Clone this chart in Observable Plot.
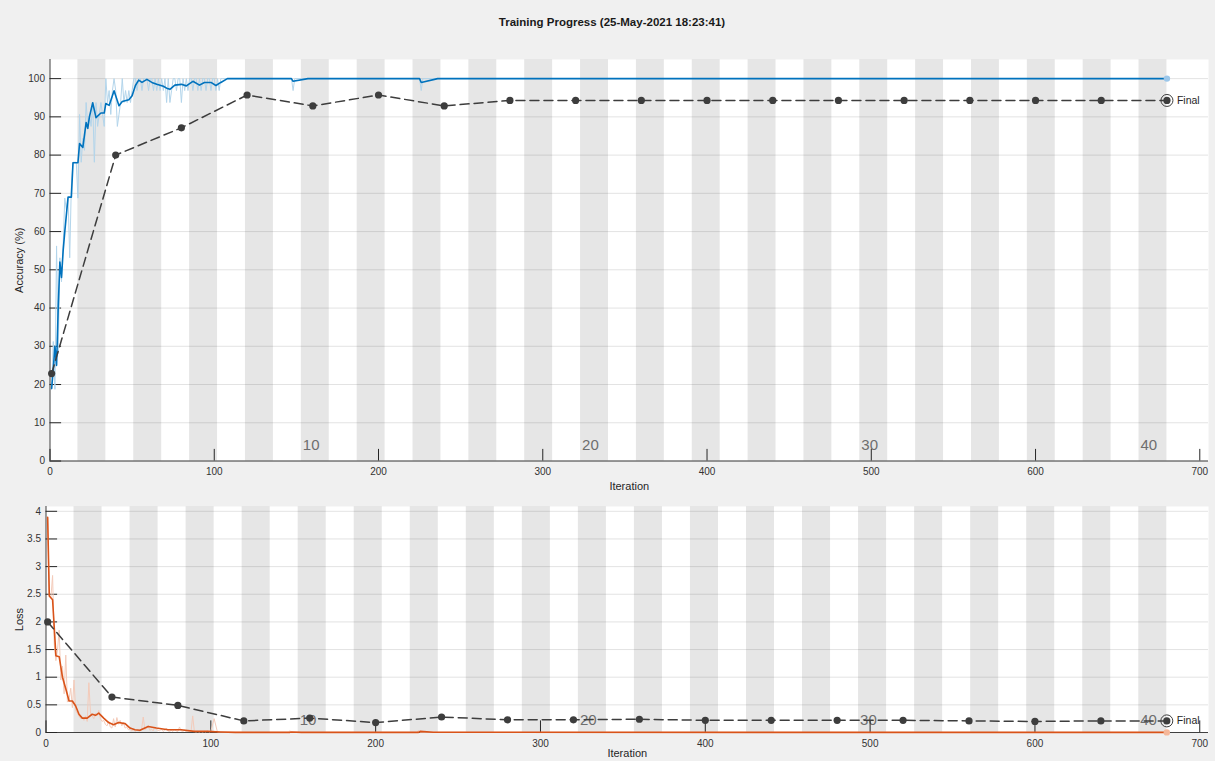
<!DOCTYPE html>
<html>
<head>
<meta charset="utf-8">
<script src="https://cdn.jsdelivr.net/npm/d3@7"></script>
<script src="https://cdn.jsdelivr.net/npm/@observablehq/plot@0.6"></script>
<style>
  html, body { margin: 0; padding: 0; background: #f0f0f0; }
  #fig { position: relative; width: 1215px; height: 761px; background: #f0f0f0; overflow: hidden; font-family: "Liberation Sans", Arial, sans-serif; }
  #title { position: absolute; top: 16px; left: 612px; transform: translateX(-50%); font-size: 11.5px; font-weight: bold; color: #1a1a1a; white-space: nowrap; }
  #accPanel, #lossPanel { position: absolute; left: 0; }
  #accPanel { top: 0; }
  #lossPanel { top: 500px; }
</style>
</head>
<body>
<div id="fig">
  <div id="title">Training Progress (25-May-2021 18:23:41)</div>
  <div id="accPanel"></div>
  <div id="lossPanel"></div>
</div>
<script>
// ---------- data ----------
const numEpochs = 40;
const itersPerEpoch = 17;
const epochLabels = [10, 20, 30, 40];
const iterTicks = [0, 100, 200, 300, 400, 500, 600, 700];
const accTicks = [0, 10, 20, 30, 40, 50, 60, 70, 80, 90, 100];
const lossTicks = [0, 0.5, 1, 1.5, 2, 2.5, 3, 3.5, 4];

// raw mini-batch accuracy, iterations 1..106
const rawAccEarly = [18.75, 31.25, 18.75, 56.25, 28.13, 53.13, 46.88, 56.25, 68.75, 65.63,
  68.75, 53.13, 71.88, 78.13, 78.13, 78.13, 68.75, 90.63, 78.13, 84.38,
  81.25, 93.75, 87.5, 90.63, 87.5, 93.75, 78.13, 93.75, 87.5, 90.63,
  93.75, 90.63, 87.5, 100, 93.75, 96.88, 90.63, 96.88, 100, 96.88,
  87.5, 90.63, 93.75, 100, 93.75, 96.88, 93.75, 96.88, 93.75, 96.88,
  100, 100, 96.88, 100, 100, 96.88, 100, 100, 100, 96.88,
  100, 100, 96.88, 100, 96.88, 100, 96.88, 100, 96.88, 100,
  93.75, 100, 93.75, 96.88, 100, 100, 96.88, 100, 100, 93.75,
  100, 96.88, 100, 96.88, 100, 100, 96.88, 100, 100, 96.88,
  100, 96.88, 100, 100, 96.88, 100, 100, 96.88, 100, 100,
  96.88, 100, 96.88, 100, 100, 100];
// raw accuracy after iteration 106 (iteration, value)
const rawAccLateIter = [147, 148, 149, 225, 226, 227, 680];
const rawAccLateVal  = [100, 96.88, 100, 100, 96.88, 100, 100];

// smoothed accuracy (iteration, value)
const smoothAccIter = [1,2,3,4,5,6,7,8,9,11,13,14,17,18,20,22,23,24,26,28,31,33,34,36,39,42,44,48,50,52,54,56,59,62,65,69,71,73,76,80,83,87,91,94,98,101,104,108,147,148,157,225,226,236,680];
const smoothAccVal  = [19,24,30,25,40,52,48,55,60,69,69,78,78,83,82,88.5,87,90,93.7,89.8,91,91,93.5,93,96.8,92.9,94,94.5,95.5,98.2,99.6,99,99.8,99,98.5,98,97.5,97.2,98.3,98.5,98.1,99.3,98.3,99,99,98.2,99,100,100,99.3,100,100,99,100,100];

// validation
const valIter = [1, 40, 80, 120, 160, 200, 240, 280, 320, 360, 400, 440, 480, 520, 560, 600, 640, 680];
const valAcc  = [22.86, 80, 87.14, 95.71, 92.86, 95.71, 92.86, 94.29, 94.29, 94.29, 94.29, 94.29, 94.29, 94.29, 94.29, 94.29, 94.29, 94.29];
const valLoss = [2.0, 0.64, 0.49, 0.21, 0.26, 0.18, 0.28, 0.23, 0.23, 0.24, 0.22, 0.22, 0.22, 0.22, 0.21, 0.20, 0.21, 0.21];

// raw mini-batch loss, iterations 1..100
const rawLossEarly = [3.89, 2.47, 2.45, 2.84, 1.6, 1.3, 1.5, 1.85, 0.95, 1.2,
  0.7, 1.4, 0.55, 0.6, 0.8, 0.45, 0.95, 0.4, 0.35, 0.3,
  0.25, 0.28, 0.22, 0.3, 0.2, 0.9, 0.35, 0.3, 0.25, 0.35,
  0.3, 0.4, 0.25, 0.2, 0.22, 0.15, 0.12, 0.2, 0.1, 0.08,
  0.25, 0.1, 0.27, 0.15, 0.22, 0.12, 0.18, 0.08, 0.1, 0.05,
  0.06, 0.03, 0.05, 0.02, 0.04, 0.03, 0.02, 0.06, 0.28, 0.05,
  0.08, 0.12, 0.04, 0.06, 0.03, 0.1, 0.05, 0.04, 0.03, 0.06,
  0.02, 0.04, 0.08, 0.03, 0.02, 0.04, 0.02, 0.05, 0.03, 0.02,
  0.1, 0.03, 0.02, 0.04, 0.02, 0.03, 0.02, 0.02, 0.3, 0.02,
  0.01, 0.02, 0.01, 0.02, 0.01, 0.02, 0.01, 0.03, 0.01, 0.02];
const rawLossLateIter = [102, 104, 110, 147, 148, 149, 225, 226, 227, 680];
const rawLossLateVal  = [0.25, 0.01, 0.005, 0.003, 0.03, 0.003, 0.003, 0.04, 0.003, 0.002];

// smoothed loss (iteration, value)
const smoothLossIter = [1,2,4,5,6,8,10,12,14,16,18,20,22,25,28,30,32,35,38,41,44,48,51,54,57,62,67,74,82,90,98,106,115,148,149,155,226,227,235,680];
const smoothLossVal  = [3.89,2.47,2.4,1.9,1.39,1.37,1.0,0.79,0.57,0.57,0.48,0.33,0.26,0.26,0.33,0.31,0.35,0.26,0.18,0.14,0.18,0.16,0.08,0.05,0.04,0.11,0.08,0.05,0.05,0.02,0.02,0.01,0.003,0.003,0.01,0.003,0.003,0.02,0.004,0.002];

// ---------- tables ----------
const rawAcc = rawAccEarly.map((v, i) => ({x: i + 1, y: v}))
  .concat(rawAccLateIter.map((x, i) => ({x, y: rawAccLateVal[i]})));
const smoothAcc = smoothAccIter.map((x, i) => ({x, y: smoothAccVal[i]}));
const rawLoss = rawLossEarly.map((v, i) => ({x: i + 1, y: v}))
  .concat(rawLossLateIter.map((x, i) => ({x, y: rawLossLateVal[i]})));
const smoothLoss = smoothLossIter.map((x, i) => ({x, y: smoothLossVal[i]}));
const valA = valIter.map((x, i) => ({x, y: valAcc[i]}));
const valL = valIter.map((x, i) => ({x, y: valLoss[i]}));
const bands = d3.range(1, numEpochs + 1).filter(e => e % 2 === 0)
  .map(e => ({x1: (e - 1) * itersPerEpoch, x2: e * itersPerEpoch}));
const epochText = epochLabels.map(e => ({x: (e - 1) * itersPerEpoch, label: String(e)}));

const FONT = "'Liberation Sans', Arial, sans-serif";
const VCOL = "#3d3d3d";
const TICKLEN = 11.6;

function panel({width, height, mt, mb, ml, mr, yDomain, yTicks, yFmt, yLabel, yLabelDx, xLabelDy,
                raw, smooth, val, rawColor, lineColor, finalColor, epochDy}) {
  const pw = width - ml - mr, ph = height - mt - mb;
  const last = val[val.length - 1];
  const lastTrain = smooth[smooth.length - 1];
  return Plot.plot({
    width, height,
    marginTop: mt, marginBottom: mb, marginLeft: ml, marginRight: mr,
    style: {background: "transparent", fontFamily: FONT, fontSize: "10px", color: "#333"},
    x: {domain: [0, 705.3], ticks: iterTicks, tickSize: 0, tickPadding: 7, label: null, tickFormat: d => String(d)},
    y: {domain: yDomain, ticks: yTicks, tickSize: 0, tickPadding: 5, label: null, tickFormat: yFmt},
    marks: [
      Plot.frame({fill: "white", stroke: "none"}),
      Plot.rect(bands, {x1: "x1", x2: "x2", fill: "#e6e6e6"}),
      Plot.ruleY(yTicks, {stroke: "#262626", strokeOpacity: 0.13}),
      Plot.text(epochText, {x: "x", text: "label", frameAnchor: "bottom", dy: epochDy, dx: 1.5,
        textAnchor: "start", lineAnchor: "middle", fontSize: 15, fill: "#6e6e6e"}),
      Plot.ruleY([yDomain[0]], {stroke: "#404040", strokeWidth: 1}),
      Plot.ruleX([0], {stroke: "#404040", strokeWidth: 1}),
      Plot.tickY(yTicks, {stroke: "#262626", insetRight: pw - TICKLEN}),
      Plot.tickX(iterTicks.filter(t => t <= 705), {stroke: "#262626", insetTop: ph - TICKLEN}),
      Plot.line(raw, {x: "x", y: "y", stroke: rawColor, strokeWidth: 1}),
      Plot.line(smooth, {x: "x", y: "y", stroke: lineColor, strokeWidth: 1.6}),
      Plot.dot([lastTrain], {x: "x", y: "y", r: 3.2, fill: finalColor, stroke: "none"}),
      Plot.line(val, {x: "x", y: "y", stroke: VCOL, strokeWidth: 1.5, strokeDasharray: "9,5"}),
      Plot.dot(val, {x: "x", y: "y", r: 3.6, fill: VCOL, stroke: "none"}),
      Plot.dot([last], {x: "x", y: "y", r: 6, fill: "none", stroke: VCOL, strokeWidth: 1}),
      Plot.text([last], {x: "x", y: "y", text: () => "Final", dx: 10, textAnchor: "start", fontSize: 10.5, fill: "#262626"}),
      Plot.text([yLabel], {frameAnchor: "left", text: d => d, rotate: -90, dx: yLabelDx,
        textAnchor: "middle", lineAnchor: "middle", fontSize: 11, fill: "#262626"}),
      Plot.text(["Iteration"], {frameAnchor: "bottom", text: d => d, dy: xLabelDy,
        textAnchor: "middle", lineAnchor: "middle", fontSize: 11, fill: "#262626"})
    ]
  });
}

const accChart = panel({
  width: 1215, height: 500, mt: 59, mb: 39.5, ml: 49.5, mr: 7,
  yDomain: [0, 105], yTicks: accTicks, yFmt: d => String(d), yLabel: "Accuracy (%)", yLabelDx: -30.5, xLabelDy: 25,
  raw: rawAcc, smooth: smoothAcc, val: valA,
  rawColor: "#b3d5eb", lineColor: "#0072bd", finalColor: "#9cc7ea", epochDy: -16
});
document.getElementById("accPanel").appendChild(accChart);

const lossChart = panel({
  width: 1215, height: 261, mt: 6, mb: 29, ml: 45.5, mr: 7,
  yDomain: [0, 4.087], yTicks: lossTicks, yFmt: d => String(d), yLabel: "Loss", yLabelDx: -26.5, xLabelDy: 21,
  raw: rawLoss, smooth: smoothLoss, val: valL,
  rawColor: "#f4cbba", lineColor: "#d95319", finalColor: "#f5b799", epochDy: -12
});
document.getElementById("lossPanel").appendChild(lossChart);
</script>
</body>
</html>
